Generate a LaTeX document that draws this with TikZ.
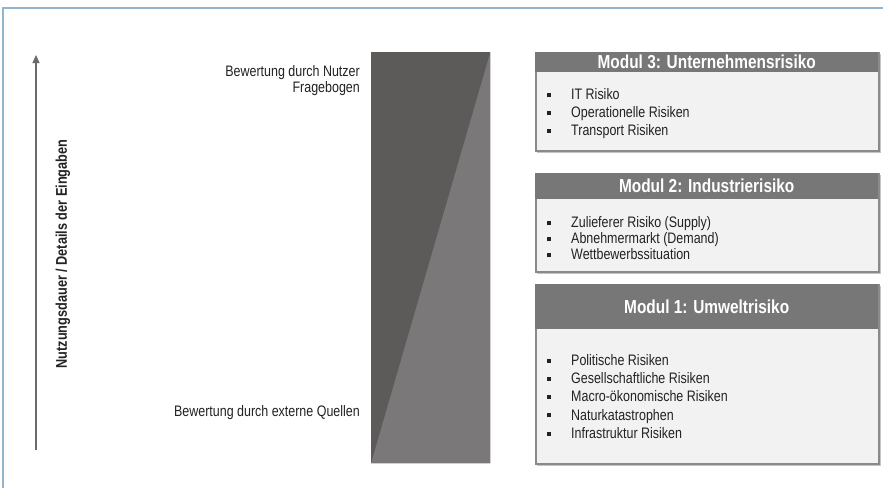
\documentclass[tikz,border=0pt]{standalone}
\usepackage{fontspec}
\setmainfont[FakeStretch=0.82]{Liberation Sans}
\usetikzlibrary{arrows.meta}
\definecolor{frameblue}{HTML}{93B5CC}
\definecolor{bardark}{HTML}{5D5B5A}
\definecolor{barlight}{HTML}{7A7879}
\definecolor{headgray}{HTML}{777777}
\definecolor{bodygray}{HTML}{F2F2F2}
\definecolor{bordergray}{HTML}{8A8A8A}
\definecolor{shadowgray}{HTML}{C4C4C4}
\definecolor{txt}{HTML}{222222}
\definecolor{arrowgray}{HTML}{6B6B6B}
\newcommand\bulitem{\makebox[24pt][l]{\rule[2.8pt]{3.6pt}{4pt}}}
\begin{document}
\begin{tikzpicture}[x=1pt,y=-1pt,
  modbody/.style={draw=bordergray, line width=1.8pt, fill=bodygray, anchor=north west, inner sep=0pt, minimum width=343},
  modhead/.style={fill=headgray, anchor=north west, inner sep=0pt, minimum width=343},
  modtitle/.style={text=white, inner sep=0pt, font=\fontsize{18.8}{21}\selectfont\bfseries},
  moditems/.style={text=txt, anchor=west, align=left, inner sep=0pt, font=\fontsize{15.2}{#1}\selectfont},
  sidelbl/.style={text=txt, align=right, inner sep=0pt, anchor=east, font=\fontsize{15.2}{16}\selectfont}]
\useasboundingbox (0,0) rectangle (883,488);
\fill[white] (0,0) rectangle (883,488);
% frame
\draw[frameblue, line width=1.5pt] (3,488) -- (3,8) -- (883,8);

% axis arrow
\coordinate (abot) at (36,450);
\coordinate (atop) at (36,55);
\draw[arrowgray, line width=1.2pt, -{Triangle[length=8pt,width=7pt]}] (abot) -- (atop);
\node[rotate=90, text=txt, inner sep=0pt, font=\fontsize{15.5}{17}\selectfont\bfseries] (axislbl) at (63,254) {Nutzungsdauer / Details der Eingaben};

% bar
\node[minimum width=119, minimum height=411, inner sep=0pt, anchor=north west] (bar) at (371,52) {};
\fill[bardark] (bar.north west) rectangle (bar.south east);
\fill[barlight] (bar.north east) -- (bar.south east) -- (bar.south west) -- cycle;

% side labels
\node[sidelbl] (nutzer) at (360,81) {Bewertung durch Nutzer\\Fragebogen};
\node[sidelbl] (extern) at (360,413) {Bewertung durch externe Quellen};

% Modul 3
\fill[shadowgray] (537,54) rectangle (880.5,152.5);
\node[modbody, minimum height=98] (m3) at (535,52) {};
\node[modhead, minimum height=20] (m3h) at (535,52) {};
\node[modtitle] (m3t) at (m3h.center) {Modul 3: Unternehmensrisiko};
\node[moditems=18] (m3i) at (547,114) {\bulitem IT Risiko\\\bulitem Operationelle Risiken\\\bulitem Transport Risiken};

% Modul 2
\fill[shadowgray] (537,175) rectangle (880.5,273.5);
\node[modbody, minimum height=98] (m2) at (535,173) {};
\node[modhead, minimum height=26] (m2h) at (535,173) {};
\node[modtitle] (m2t) at (m2h.center) {Modul 2: Industrierisiko};
\node[moditems=16] (m2i) at (547,238) {\bulitem Zulieferer Risiko (Supply)\\\bulitem Abnehmermarkt (Demand)\\\bulitem Wettbewerbssituation};

% Modul 1
\fill[shadowgray] (537,286) rectangle (880.5,465.5);
\node[modbody, minimum height=179] (m1) at (535,284) {};
\node[modhead, minimum height=45] (m1h) at (535,284) {};
\node[modtitle] (m1t) at (m1h.center) {Modul 1: Umweltrisiko};
\node[moditems=18.3] (m1i) at (547,396.5) {\bulitem Politische Risiken\\\bulitem Gesellschaftliche Risiken\\\bulitem Macro-ökonomische Risiken\\\bulitem Naturkatastrophen\\\bulitem Infrastruktur Risiken};
\end{tikzpicture}
\end{document}
